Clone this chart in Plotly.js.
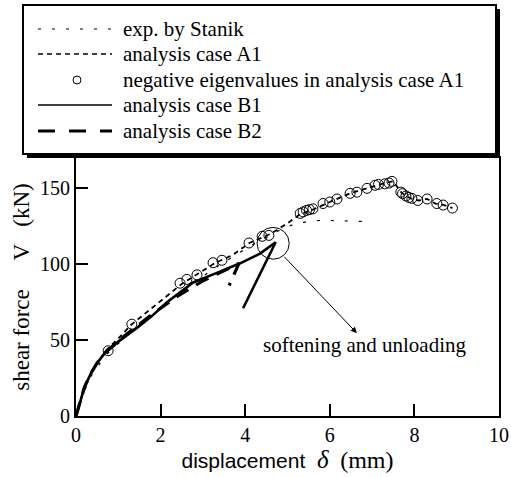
<!DOCTYPE html>
<html>
<head>
<meta charset="utf-8">
<script src="https://cdn.plot.ly/plotly-3.0.1.min.js"></script>
<style>
body{margin:0;padding:0;background:#fff}
#chart .modebar-container, #chart .modebar{display:none !important;}
#warm{position:absolute;top:-200px;left:0;font-size:20px;color:#fff}
</style>
</head>
<body>
<div id="warm"><span style="font-family:'Liberation Serif'">Serif</span> <span style="font-family:'Liberation Serif';font-style:italic">Italic</span> <span style="font-family:'Liberation Sans'">Sans</span></div>
<div id="chart" style="width:511px;height:477px"></div>
<script>
// exp. by Stanik
var expX = [0, 0.3, 0.7, 1.2, 1.8, 2.5, 3.2, 4.0, 4.7, 5.2, 5.8, 6.3, 7.0];
var expY = [0, 24, 40, 53, 67, 82, 96, 110, 121, 127, 129, 128.5, 128];
// analysis case A1
var a1X = [0, 0.1, 0.25, 0.45, 0.7, 1.0, 1.3, 1.7, 2.1, 2.5, 2.9, 3.3, 3.7, 4.1, 4.6, 5.0, 5.3, 5.6, 6.0, 6.5, 7.0, 7.3, 7.5, 7.7, 7.9, 8.1, 8.3, 8.5, 8.7, 8.9];
var a1Y = [0, 10, 22, 33, 43, 51, 60, 69, 78, 87, 94, 101, 106, 114, 120, 127, 133, 136, 141, 147, 151, 153.5, 154.6, 147, 143.5, 142, 143, 140, 139, 137];
// negative eigenvalues in analysis case A1
var negX = [0.76, 1.32, 2.46, 2.62, 2.86, 3.24, 3.45, 4.09, 4.4, 4.56, 5.3, 5.37, 5.45, 5.52, 5.6, 5.84, 6.0, 6.17, 6.48, 6.64, 6.88, 7.07, 7.15, 7.3, 7.4, 7.47, 7.68, 7.72, 7.8, 7.87, 7.94, 8.08, 8.3, 8.53, 8.68, 8.9];
var negY = [43, 60.5, 87.5, 90, 93, 101, 102.6, 114, 118.4, 119, 133.5, 134.5, 135.5, 136, 136.5, 140, 141, 143, 146.7, 147.5, 150, 152, 152.6, 153, 153.5, 154.6, 147.5, 146.5, 145, 144, 143.4, 142, 143, 140, 139, 137];
// analysis case B1
var b1X = [0, 0.1, 0.2, 0.35, 0.5, 0.7, 1.0, 1.44, 1.8, 2.15, 2.77, 3.3, 3.88, 4.35, 4.63, 4.72, 3.95];
var b1Y = [0, 10, 19, 28, 35, 42, 49, 58, 66, 75, 88, 94, 100.6, 107, 113, 114.5, 71];
// analysis case B2
var b2X = [0, 0.1, 0.2, 0.35, 0.5, 0.7, 1.2, 1.8, 2.4, 3.0, 3.5, 3.85, 3.62];
var b2Y = [0, 10, 19, 28, 35, 42, 54, 67, 79, 89, 96, 100.5, 86];

var legendLabels = ["exp. by Stanik", "analysis case A1", "negative eigenvalues in analysis case A1", "analysis case B1", "analysis case B2"];
var xTicks = [0, 2, 4, 6, 8, 10];
var yTicks = [0, 50, 100, 150];

var SERIF = "Liberation Serif";
var SANS = "Liberation Sans";

var traces = [
  {x: expX, y: expY, mode: "lines", line: {color: "#000", width: 1.2, dash: "3px,11px"}},
  {x: a1X, y: a1Y, mode: "lines", line: {color: "#000", width: 1.8, dash: "5px,4px"}},
  {x: negX, y: negY, mode: "markers", marker: {symbol: "circle-open", size: 10, color: "#000", line: {width: 1, color: "#000"}}},
  {x: b1X, y: b1Y, mode: "lines", line: {color: "#000", width: 2.6}},
  {x: b2X, y: b2Y, mode: "lines", line: {color: "#000", width: 3.2, dash: "14px,9px"}}
];

var PL = 76, PW = 423, PB = 416, PH = 258;
function px(v) { return (v - PL) / PW; }
function py(v) { return (PB - v) / PH; }

var shapes = [
  {type: "rect", xref: "paper", yref: "paper", x0: px(27), x1: px(500), y0: py(158), y1: py(9), fillcolor: "#000", line: {width: 0}, layer: "above"},
  {type: "rect", xref: "paper", yref: "paper", x0: px(23), x1: px(496), y0: py(154), y1: py(5), fillcolor: "#fff", line: {color: "#000", width: 2}, layer: "above"},
  {type: "line", xref: "paper", yref: "paper", x0: px(38), x1: px(112), y0: py(29), y1: py(29), line: {color: "#000", width: 1.2, dash: "3px,11px"}, layer: "above"},
  {type: "line", xref: "paper", yref: "paper", x0: px(38), x1: px(112), y0: py(54), y1: py(54), line: {color: "#000", width: 1.6, dash: "5px,4px"}, layer: "above"},
  {type: "circle", xref: "paper", yref: "paper", x0: px(73), x1: px(81), y0: py(84), y1: py(76), line: {color: "#000", width: 1}, layer: "above"},
  {type: "line", xref: "paper", yref: "paper", x0: px(38), x1: px(112), y0: py(105), y1: py(105), line: {color: "#000", width: 1.6}, layer: "above"},
  {type: "line", xref: "paper", yref: "paper", x0: px(38), x1: px(112), y0: py(131), y1: py(131), line: {color: "#000", width: 3.2, dash: "17px,14px"}, layer: "above"},
  {type: "circle", xref: "x", yref: "y", x0: 4.28, x1: 5.04, y0: 103.3, y1: 124.3, line: {color: "#000", width: 1}}
];

var legendRows = [29, 54, 80, 105, 131];
var annotations = legendLabels.map(function (t, i) {
  return {text: t, xref: "paper", yref: "paper", x: px(121), y: py(legendRows[i]), xanchor: "left", yanchor: "middle", showarrow: false, font: {family: SERIF, size: 21, color: "#000"}};
});
annotations.push({text: "softening and unloading", x: 6.81, y: 46.7, xref: "x", yref: "y", showarrow: false, font: {family: SERIF, size: 21, color: "#000"}});
annotations.push({text: "", x: 6.64, y: 54.6, xref: "x", yref: "y", axref: "x", ayref: "y", ax: 4.89, ay: 105.9, showarrow: true, arrowhead: 2, arrowsize: 1.2, arrowwidth: 1, arrowcolor: "#000"});

var NB = "\u00a0";
var layout = {
  width: 511, height: 477,
  margin: {l: 76, r: 12, t: 158, b: 61},
  showlegend: false,
  xaxis: {
    range: [0, 10], tickvals: xTicks,
    showgrid: false, zeroline: false, showline: true, linecolor: "#000", linewidth: 2, mirror: true,
    ticks: "inside", ticklen: 12, tickwidth: 2, tickcolor: "#000",
    tickfont: {family: SERIF, size: 20, color: "#000"},
    title: {text: 'displacement' + NB + NB + '<span style="font-family:Liberation Serif;font-style:italic;font-size:25px">δ</span>' + NB + NB + '<span style="font-family:Liberation Serif;font-size:24px">(mm)</span>', font: {family: SANS, size: 21, color: "#000"}, standoff: 3}
  },
  yaxis: {
    range: [0, 170], tickvals: yTicks,
    showgrid: false, zeroline: false, showline: true, linecolor: "#000", linewidth: 2, mirror: true,
    ticks: "inside", ticklen: 12, tickwidth: 2, tickcolor: "#000",
    tickfont: {family: SERIF, size: 20, color: "#000"},
    title: {text: "shear force" + NB + NB + NB + NB + NB + "V" + NB + NB + NB + "(kN)" + NB + NB + NB, font: {family: SERIF, size: 23, color: "#000"}, standoff: 4}
  },
  shapes: shapes,
  annotations: annotations
};

Plotly.newPlot("chart", traces, layout);
</script>
</body>
</html>
